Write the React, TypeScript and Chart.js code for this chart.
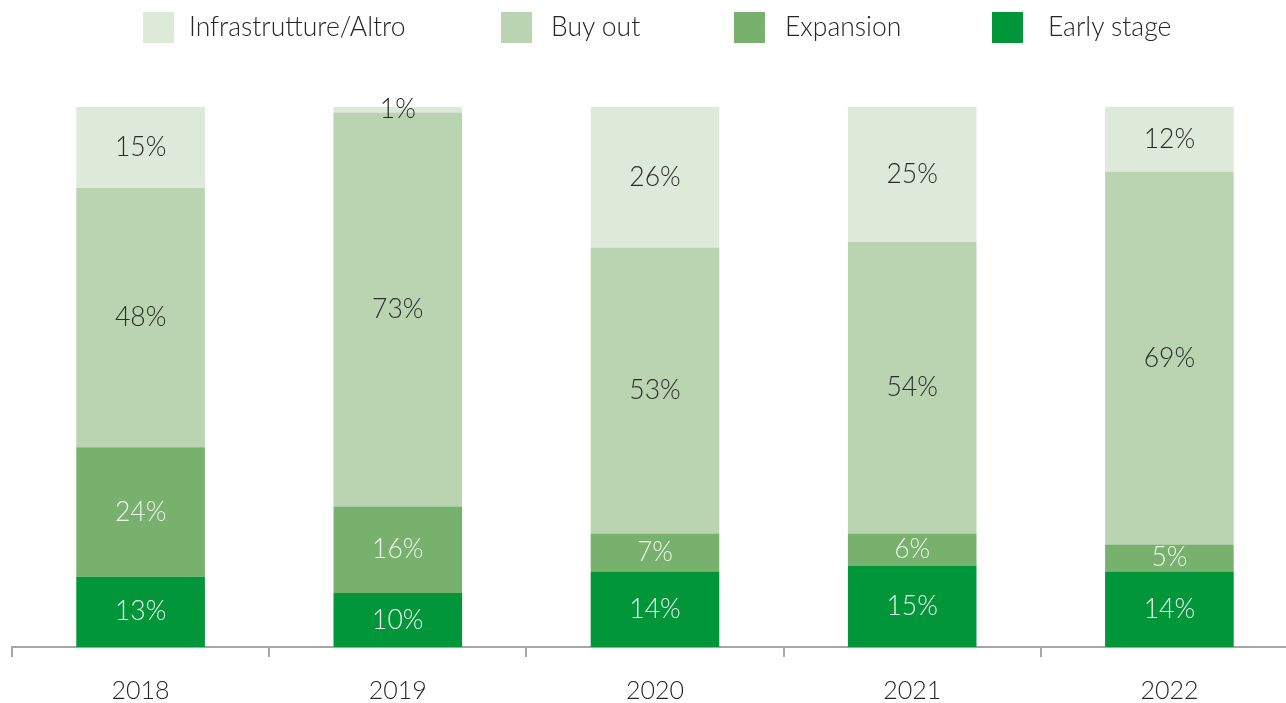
import React, { useEffect, useRef } from "react";
import { Chart, registerables } from "chart.js";

Chart.register(...registerables);

const years = ["2018", "2019", "2020", "2021", "2022"];
const earlyStage = [13, 10, 14, 15, 14];
const expansion = [24, 16, 7, 6, 5];
const buyOut = [48, 73, 53, 54, 69];
const infrastrutture = [15, 1, 26, 25, 12];

const seriesNames = ["Early stage", "Expansion", "Buy out", "Infrastrutture/Altro"];
const seriesValues = [earlyStage, expansion, buyOut, infrastrutture];
const seriesColors = ["#009639", "#78b16e", "#bad4b1", "#dde9d9"];
const labelColors = ["#eef5ec", "#eef5ec", "#2b2b2b", "#2b2b2b"];

const FONT = "Lato";
const TEXT = "#262626";

// legend layout (left-to-right order, box left / text left in px)
const legendOrder = [3, 2, 1, 0];
const legendBoxLeft = [143, 501, 734, 992];
const legendTextLeft = [189, 551, 785, 1048];

const segmentLabels = {
  id: "segmentLabels",
  afterDatasetsDraw(chart: any) {
    const ctx = chart.ctx;
    ctx.save();
    ctx.font = `300 26.5px ${FONT}`;
    ctx.textAlign = "center";
    ctx.textBaseline = "middle";
    chart.data.datasets.forEach((ds: any, di: number) => {
      const meta = chart.getDatasetMeta(di);
      meta.data.forEach((el: any, i: number) => {
        const v = ds.data[i];
        const y = (el.y + el.base) / 2;
        ctx.fillStyle = labelColors[di];
        ctx.fillText(`${v}%`, el.x, y);
      });
    });
    ctx.restore();
  },
};

export default function App() {
  const ref = useRef<HTMLCanvasElement>(null);

  useEffect(() => {
    if (!ref.current) return;
    const chart = new Chart(ref.current, {
      type: "bar",
      data: {
        labels: years,
        datasets: seriesNames.map((name, i) => ({
          label: name,
          data: seriesValues[i],
          backgroundColor: seriesColors[i],
          borderWidth: 0,
          barPercentage: 0.5,
          categoryPercentage: 1,
        })),
      },
      options: {
        responsive: false,
        animation: false,
        layout: { padding: { top: 107, left: 12, right: 0, bottom: -22 } },
        plugins: {
          legend: { display: false },
          tooltip: { enabled: false },
        },
        scales: {
          x: {
            stacked: true,
            offset: true,
            grid: {
              offset: true,
              drawOnChartArea: false,
              drawTicks: true,
              tickLength: 10,
              color: "#a6a6a6",
              lineWidth: 2,
            },
            border: { display: true, color: "#a6a6a6", width: 2 },
            ticks: {
              color: TEXT,
              padding: 19,
              font: { family: FONT, size: 25, weight: "300" as any },
            },
          },
          y: {
            stacked: true,
            display: false,
            min: 0,
            max: 100,
          },
        },
      },
      plugins: [segmentLabels],
    });
    return () => chart.destroy();
  }, []);

  return (
    <div
      style={{
        position: "absolute",
        left: 0,
        top: 0,
        width: 1286,
        height: 703,
        overflow: "hidden",
        background: "#ffffff",
      }}
    >
      <canvas
        ref={ref}
        width={1298}
        height={703}
        style={{ position: "absolute", left: 0, top: 0, width: 1298, height: 703 }}
      />
      {legendOrder.map((si, k) => (
        <React.Fragment key={si}>
          <div
            style={{
              position: "absolute",
              left: legendBoxLeft[k],
              top: 12,
              width: 31,
              height: 31,
              background: seriesColors[si],
            }}
          />
          <div
            style={{
              position: "absolute",
              left: legendTextLeft[k],
              top: 11,
              height: 31,
              lineHeight: "31px",
              whiteSpace: "nowrap",
              fontFamily: FONT,
              fontWeight: 300,
              fontSize: 26.5,
              color: TEXT,
            }}
          >
            {seriesNames[si]}
          </div>
        </React.Fragment>
      ))}
    </div>
  );
}
